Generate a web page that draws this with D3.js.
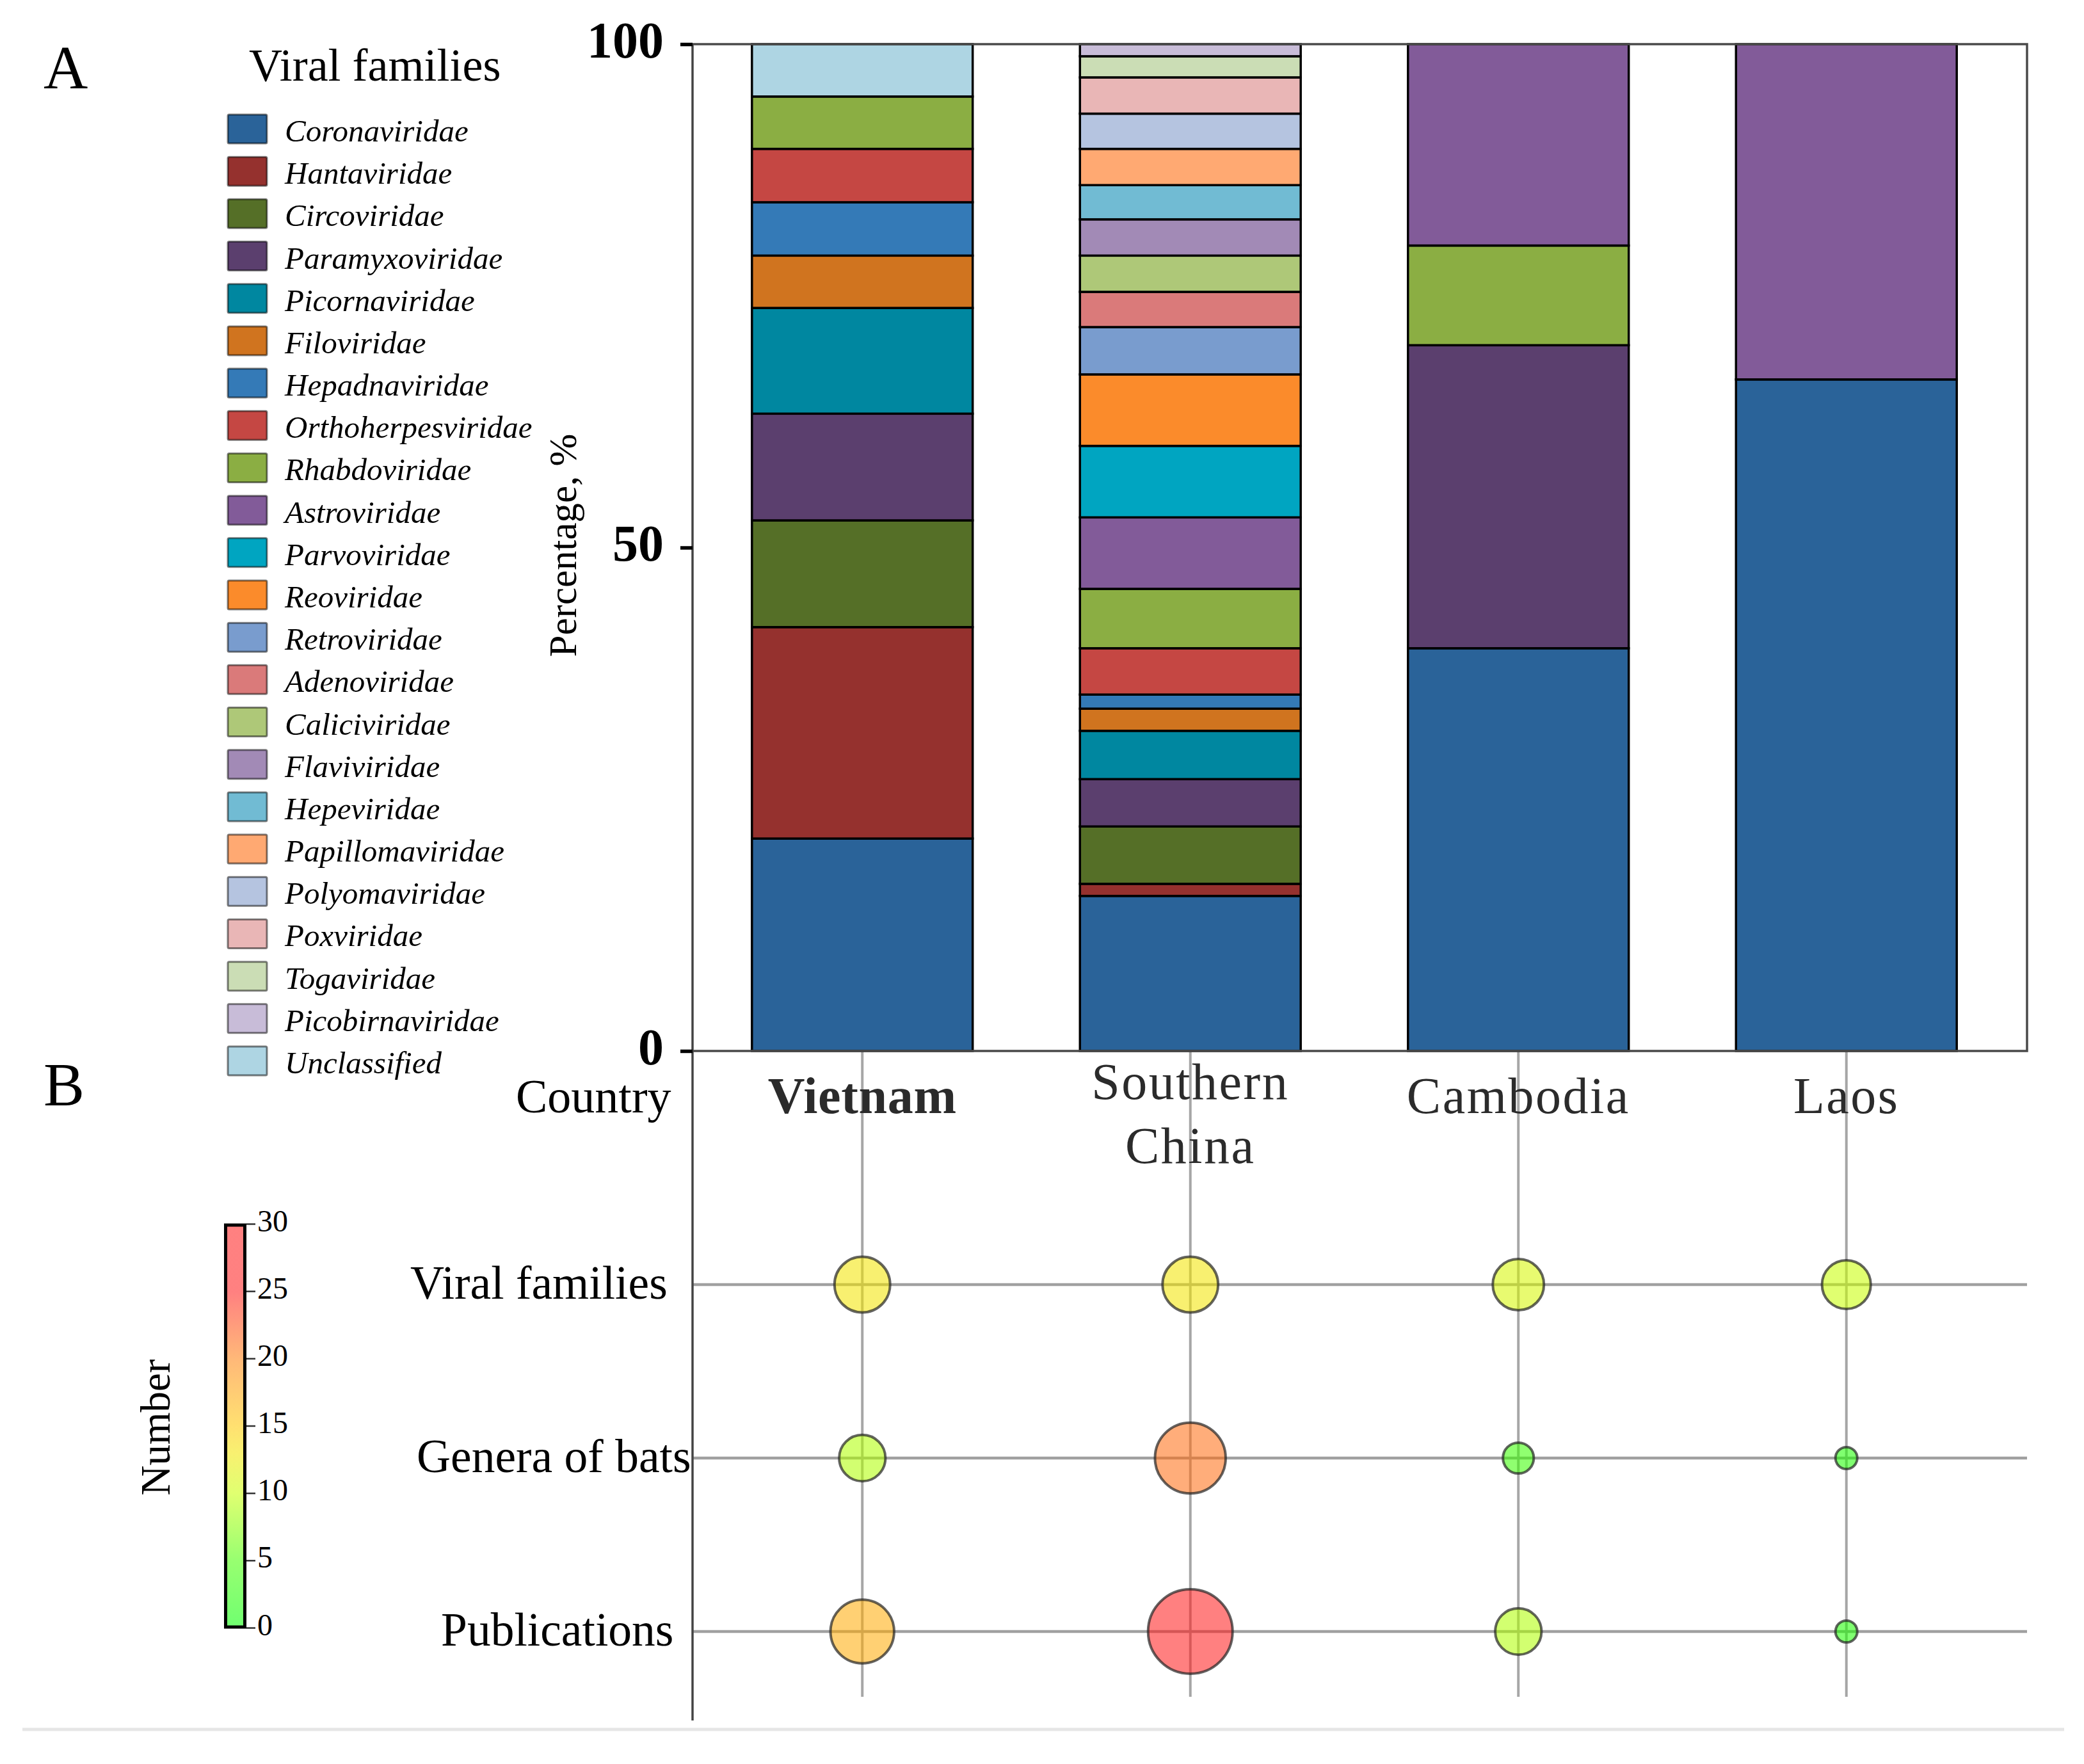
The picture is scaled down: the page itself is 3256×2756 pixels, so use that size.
<!DOCTYPE html>
<html>
<head>
<meta charset="utf-8">
<script src="https://cdn.jsdelivr.net/npm/d3@7"></script>
<style>
  body { margin: 0; background: #fff; }
  text { font-family: "Liberation Serif", serif; fill: #000; }
</style>
</head>
<body>
<svg id="chart"></svg>
<script>
const families = ["Coronaviridae", "Hantaviridae", "Circoviridae", "Paramyxoviridae", "Picornaviridae",
  "Filoviridae", "Hepadnaviridae", "Orthoherpesviridae", "Rhabdoviridae", "Astroviridae", "Parvoviridae",
  "Reoviridae", "Retroviridae", "Adenoviridae", "Caliciviridae", "Flaviviridae", "Hepeviridae",
  "Papillomaviridae", "Polyomaviridae", "Poxviridae", "Togaviridae", "Picobirnaviridae", "Unclassified"];
const familyColors = ["#2a6399", "#95312e", "#556f27", "#5b3f6e", "#0087a0", "#d0741f", "#347ab7", "#c54743",
  "#8bae43", "#825b99", "#00a5c1", "#fb8b2b", "#799cce", "#da7a7a", "#aec878", "#a28ab6", "#71bbd3",
  "#ffa972", "#b5c4e0", "#e9b6b6", "#cbddb5", "#c8bcd8", "#aed5e3"];

const countries = ["Vietnam", "Southern China", "Cambodia", "Laos"];

// percentages per family, same order as families
const vietnam = [21.1, 21.0, 10.6, 10.6, 10.5, 5.2, 5.3, 5.3, 5.2, 0, 0, 0, 0, 0, 0, 0, 0, 0, 0, 0, 0, 0, 5.2];
const southernChina = [15.4, 1.2, 5.7, 4.7, 4.8, 2.2, 1.4, 4.6, 5.9, 7.1, 7.1, 7.1, 4.7, 3.5, 3.6, 3.6, 3.4, 3.6, 3.5, 3.6, 2.1, 1.2, 0];
const cambodia = [40.0, 0, 0, 30.1, 0, 0, 0, 0, 9.9, 20.0, 0, 0, 0, 0, 0, 0, 0, 0, 0, 0, 0, 0, 0];
const laos = [66.7, 0, 0, 0, 0, 0, 0, 0, 0, 33.3, 0, 0, 0, 0, 0, 0, 0, 0, 0, 0, 0, 0, 0];
const percentTicks = [0, 50, 100];

const rows = ["Viral families", "Genera of bats", "Publications"];
const viralFamilyCounts = [13, 13, 11, 10];
const batGeneraCounts = [9, 21, 4, 2];
const publicationCounts = [17, 30, 9, 2];
const colorTicks = [0, 5, 10, 15, 20, 25, 30];
const heatValues = [0, 5, 10, 13, 15, 20, 25, 30];
const heatColors = ["#00ff00", "#47ff00", "#c8ff00", "#f3e500", "#ffc800", "#ff810e", "#ff1d1d", "#ff1d1d"];

const svg = d3.select("#chart").attr("width", 3256).attr("height", 2756);

const plot = { left: 1082, right: 3167, top: 69, bottom: 1642, end: 2688 };

const x = d3.scaleBand().domain(countries).range([1091, 3141]).paddingInner(0.327).paddingOuter(0.1635);
const y = d3.scaleLinear().domain([0, 100]).range([plot.bottom, plot.top]);
const rowY = d3.scalePoint().domain(rows).range([2007, 2549]);
const radius = d3.scaleSqrt().domain([0, 30]).range([0, 66]);
const heat = d3.scaleLinear().domain(heatValues).range(heatColors);

// grid of the bubble panel
svg.append("g").selectAll("line").data(countries).join("line")
  .attr("x1", d => x(d) + x.bandwidth() / 2).attr("x2", d => x(d) + x.bandwidth() / 2)
  .attr("y1", plot.bottom).attr("y2", 2651)
  .attr("stroke", "#a6a6a6").attr("stroke-width", 4);
svg.append("g").selectAll("line").data(rows).join("line")
  .attr("x1", plot.left).attr("x2", plot.right)
  .attr("y1", d => rowY(d)).attr("y2", d => rowY(d))
  .attr("stroke", "#a0a0a0").attr("stroke-width", 4.5);

// stacked bars
const table = countries.map((c, i) => {
  const row = { country: c };
  const values = [vietnam, southernChina, cambodia, laos][i];
  families.forEach((f, j) => { row[f] = values[j]; });
  return row;
});
const series = d3.stack().keys(families)(table);

svg.append("g").selectAll("g").data(series).join("g")
  .attr("fill", (d, i) => familyColors[i])
  .selectAll("rect")
  .data(d => d.filter(p => p[1] > p[0]))
  .join("rect")
    .attr("x", d => x(d.data.country))
    .attr("width", x.bandwidth())
    .attr("y", d => y(d[1]))
    .attr("height", d => y(d[0]) - y(d[1]))
    .attr("stroke", "#000")
    .attr("stroke-width", 3.5);

// frame
svg.append("path")
  .attr("d", `M${plot.left},${plot.top}H${plot.right}V${plot.bottom}H${plot.left}`)
  .attr("fill", "none").attr("stroke", "#4a4a4a").attr("stroke-width", 3.5);
svg.append("line")
  .attr("x1", plot.left).attr("x2", plot.left).attr("y1", plot.top).attr("y2", plot.end)
  .attr("stroke", "#444").attr("stroke-width", 3.5);

// percentage axis
const yAxis = svg.append("g").attr("transform", `translate(${plot.left},0)`)
  .call(d3.axisLeft(y).tickValues(percentTicks).tickSize(19).tickPadding(26));
yAxis.select(".domain").remove();
yAxis.selectAll("line").attr("stroke", "#000").attr("stroke-width", 5.5);
yAxis.selectAll("text")
  .attr("dy", 20)
  .attr("font-size", 80)
  .attr("font-weight", "bold");

svg.append("text")
  .attr("transform", "translate(900,852) rotate(-90)")
  .attr("text-anchor", "middle").attr("font-size", 61)
  .text("Percentage, %");

// legend
const legendY = d3.scalePoint().domain(families).range([179, 1635]);
const legend = svg.append("g").selectAll("g").data(families).join("g")
  .attr("transform", d => `translate(356,${legendY(d)})`);
legend.append("rect")
  .attr("width", 61).attr("height", 45).attr("rx", 2)
  .attr("fill", (d, i) => familyColors[i])
  .attr("stroke", "#000").attr("stroke-opacity", 0.5).attr("stroke-width", 3);
legend.append("text")
  .attr("x", 89).attr("y", 42)
  .attr("font-size", 49).attr("font-style", "italic")
  .text(d => d);

svg.append("text").attr("x", 389).attr("y", 126).attr("font-size", 72).text("Viral families");
svg.append("text").attr("x", 68).attr("y", 138).attr("font-size", 96).text("A");
svg.append("text").attr("x", 68).attr("y", 1727).attr("font-size", 96).text("B");

// country labels
svg.append("text").attr("x", 806).attr("y", 1738).attr("font-size", 74).attr("fill", "#222").text("Country");
svg.append("g").selectAll("text").data(countries).join("text")
  .attr("x", d => x(d) + x.bandwidth() / 2)
  .attr("y", d => d.includes(" ") ? 1717 : 1739)
  .attr("text-anchor", "middle")
  .attr("font-size", 80)
  .attr("font-weight", d => d === "Vietnam" ? "bold" : "normal")
  .attr("letter-spacing", d => d === "Vietnam" ? 0.7 : 2.5)
  .style("fill", "#2b2b2b")
  .each(function(d) {
    d3.select(this).selectAll("tspan").data(d.split(" ")).join("tspan")
      .attr("x", d3.select(this).attr("x"))
      .attr("dy", (w, i) => i ? 100 : 0)
      .text(w => w);
  });

// row labels
const rowLabelStart = [641, 651, 689];
svg.append("g").selectAll("text").data(rows).join("text")
  .attr("x", (d, i) => rowLabelStart[i])
  .attr("y", d => rowY(d) + 22)
  .attr("font-size", 73.5)
  .text(d => d);

// bubbles
const bubbles = rows.flatMap((r, i) => countries.map((c, j) => ({
  row: r, country: c, value: [viralFamilyCounts, batGeneraCounts, publicationCounts][i][j]
})));
svg.append("g").selectAll("circle").data(bubbles).join("circle")
  .attr("cx", d => x(d.country) + x.bandwidth() / 2)
  .attr("cy", d => rowY(d.row))
  .attr("r", d => radius(d.value))
  .attr("fill", d => heat(d.value))
  .attr("fill-opacity", 0.56)
  .attr("stroke", "#222")
  .attr("stroke-opacity", 0.7)
  .attr("stroke-width", 4);

// color bar
const barY = d3.scaleLinear().domain([0, 30]).range([2543, 1912]);
const gradient = svg.append("defs").append("linearGradient")
  .attr("id", "heat").attr("x1", 0).attr("x2", 0).attr("y1", 1).attr("y2", 0);
gradient.selectAll("stop").data(heatValues).join("stop")
  .attr("offset", d => d / 30)
  .attr("stop-color", d => heat(d))
  .attr("stop-opacity", 0.56);
svg.append("rect")
  .attr("x", 352.5).attr("y", 1914).attr("width", 30).attr("height", 628)
  .attr("fill", "url(#heat)").attr("stroke", "#000").attr("stroke-width", 5);

const barAxis = svg.append("g").attr("transform", "translate(385,0)")
  .call(d3.axisRight(barY).tickValues(colorTicks).tickSize(14).tickPadding(3));
barAxis.select(".domain").remove();
barAxis.selectAll("line").attr("stroke", "#333").attr("stroke-width", 2.5);
barAxis.selectAll("text").attr("font-size", 48).attr("dy", 11);

svg.append("text")
  .attr("transform", "translate(265,2230) rotate(-90)")
  .attr("text-anchor", "middle").attr("font-size", 65)
  .text("Number");

svg.append("line")
  .attr("x1", 35).attr("x2", 3225).attr("y1", 2702).attr("y2", 2702)
  .attr("stroke", "#e6e6e6").attr("stroke-width", 5);
</script>
</body>
</html>
